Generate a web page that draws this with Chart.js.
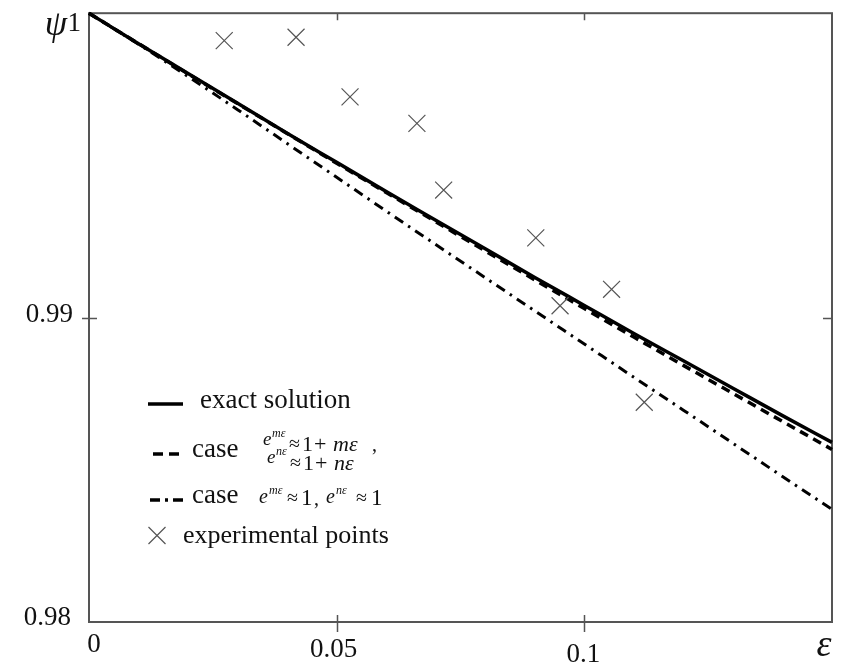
<!DOCTYPE html>
<html>
<head>
<meta charset="utf-8">
<script src="https://cdn.jsdelivr.net/npm/chart.js@4/dist/chart.umd.min.js"></script>
<style>
  html, body { margin: 0; padding: 0; background: #fff; }
  #wrap { width: 846px; height: 667px; }
</style>
</head>
<body>
<div id="wrap"><canvas id="c" width="846" height="667"></canvas></div>
<script>
// strain parameter grid (epsilon)
const epsGrid = [0, 0.01, 0.02, 0.03, 0.04, 0.05, 0.06, 0.07, 0.08, 0.09, 0.10, 0.11, 0.12, 0.13, 0.14, 0.15];

// psi along the grid for each model
const exactSolution = [1.0, 0.99900, 0.99802, 0.99704, 0.99606, 0.99510, 0.99414, 0.99320, 0.99226, 0.99132, 0.99040, 0.98948, 0.98858, 0.98768, 0.98678, 0.98590];
const caseLinear    = [1.0, 0.99900, 0.99801, 0.99703, 0.99605, 0.99507, 0.99411, 0.99315, 0.99219, 0.99124, 0.99030, 0.98936, 0.98843, 0.98751, 0.98659, 0.98567];
const caseUnity     = [1.0, 0.99898, 0.99792, 0.99683, 0.99572, 0.99461, 0.99350, 0.99240, 0.99131, 0.99022, 0.98913, 0.98804, 0.98696, 0.98587, 0.98478, 0.98370];

// measured points
const expEps = [0.0273, 0.0418, 0.0527, 0.0662, 0.0716, 0.0902, 0.0951, 0.1055, 0.1121];
const expPsi = [0.99910, 0.99921, 0.99725, 0.99638, 0.99419, 0.99262, 0.99039, 0.99093, 0.98722];

// axis ticks
const xTicks = [0.05, 0.1];
const xTickLabels = ['0', '0.05', '0.1'];
const yTicks = [0.99];
const yTickLabels = ['1', '0.99', '0.98'];

const SERIF = '"Liberation Serif", "Times New Roman", serif';
const pts = (xs, ys) => xs.map((x, i) => ({ x: x, y: ys[i] }));

function txt(ctx, s, x, y, size, opts) {
  opts = opts || {};
  ctx.font = (opts.italic ? 'italic ' : '') + size + 'px ' + SERIF;
  ctx.textAlign = opts.align || 'left';
  ctx.textBaseline = opts.base || 'alphabetic';
  ctx.fillStyle = opts.color || '#111';
  ctx.fillText(s, x, y);
}

function lineSample(ctx, x0, x1, y, width, dash) {
  ctx.save();
  ctx.strokeStyle = '#000';
  ctx.lineWidth = width;
  ctx.setLineDash(dash);
  ctx.beginPath();
  ctx.moveTo(x0, y);
  ctx.lineTo(x1, y);
  ctx.stroke();
  ctx.restore();
}

const framePlugin = {
  id: 'frame',
  beforeDatasetsDraw(chart) {
    const { ctx, chartArea: a, scales: { x, y } } = chart;
    ctx.save();
    ctx.strokeStyle = '#555';
    ctx.lineWidth = 2;
    ctx.strokeRect(a.left, a.top, a.right - a.left, a.bottom - a.top);
    ctx.lineWidth = 1.5;
    ctx.beginPath();
    xTicks.forEach(v => {
      const px = Math.round(x.getPixelForValue(v)) + 0.5;
      ctx.moveTo(px, a.bottom - 7); ctx.lineTo(px, a.bottom + 10);
      ctx.moveTo(px, a.top); ctx.lineTo(px, a.top + 7);
    });
    yTicks.forEach(v => {
      const py = Math.round(y.getPixelForValue(v)) + 0.5;
      ctx.moveTo(a.left - 7, py); ctx.lineTo(a.left + 8, py);
      ctx.moveTo(a.right - 9, py); ctx.lineTo(a.right, py);
    });
    ctx.stroke();
    ctx.restore();
  },
  afterDraw(chart) {
    const { ctx, chartArea: a, scales: { x, y } } = chart;
    ctx.save();
    // y tick labels
    txt(ctx, '\u03C8', 67, y.getPixelForValue(1) + 12, 36, { italic: true, align: 'right', base: 'middle' });
    txt(ctx, yTickLabels[0], 81, y.getPixelForValue(1) + 11, 27, { align: 'right', base: 'middle' });
    txt(ctx, yTickLabels[1], 73, y.getPixelForValue(0.99) - 3, 27, { align: 'right', base: 'middle' });
    txt(ctx, yTickLabels[2], 71, y.getPixelForValue(0.98) - 4, 27, { align: 'right', base: 'middle' });
    // x tick labels
    txt(ctx, xTickLabels[0], x.getPixelForValue(0) + 5, a.bottom + 23, 27, { align: 'center', base: 'middle' });
    txt(ctx, xTickLabels[1], x.getPixelForValue(0.05) - 3, a.bottom + 28, 27, { align: 'center', base: 'middle' });
    txt(ctx, xTickLabels[2], x.getPixelForValue(0.1) - 1, a.bottom + 33, 27, { align: 'center', base: 'middle' });
    txt(ctx, '\u03B5', a.right - 8, a.bottom + 24, 38, { italic: true, align: 'center', base: 'middle' });

    // legend
    lineSample(ctx, 148, 183, 404, 3.5, []);
    txt(ctx, 'exact solution', 200, 408, 27);

    lineSample(ctx, 153, 181, 454, 3.5, [10, 6]);
    txt(ctx, 'case', 192, 457, 27);
    // e^{m eps} ~ 1 + m eps ,
    txt(ctx, 'e', 263, 445, 19, { italic: true });
    txt(ctx, 'm\u03B5', 272, 437, 12, { italic: true });
    txt(ctx, '\u2248', 289, 450, 20);
    txt(ctx, '1', 302, 451, 22);
    txt(ctx, '+', 314, 451, 22);
    txt(ctx, 'm\u03B5', 333, 451, 22, { italic: true });
    txt(ctx, ',', 372, 451, 20);
    // e^{n eps} ~ 1 + n eps
    txt(ctx, 'e', 267, 463, 19, { italic: true });
    txt(ctx, 'n\u03B5', 276, 455, 12, { italic: true });
    txt(ctx, '\u2248', 290, 469, 20);
    txt(ctx, '1', 303, 470, 22);
    txt(ctx, '+', 315, 470, 22);
    txt(ctx, 'n\u03B5', 334, 470, 22, { italic: true });

    lineSample(ctx, 150, 183, 500, 3.5, [10, 5, 3, 5]);
    txt(ctx, 'case', 192, 503, 27);
    txt(ctx, 'e', 259, 503, 20, { italic: true });
    txt(ctx, 'm\u03B5', 269, 494, 12, { italic: true });
    txt(ctx, '\u2248', 287, 504, 20);
    txt(ctx, '1', 301, 505, 23);
    txt(ctx, ',', 314, 505, 20);
    txt(ctx, 'e', 326, 503, 20, { italic: true });
    txt(ctx, 'n\u03B5', 336, 494, 12, { italic: true });
    txt(ctx, '\u2248', 356, 504, 20);
    txt(ctx, '1', 371, 505, 23);

    // cross marker in legend
    ctx.strokeStyle = '#555';
    ctx.lineWidth = 1.2;
    ctx.setLineDash([]);
    ctx.beginPath();
    ctx.moveTo(148.5, 527); ctx.lineTo(165.5, 544);
    ctx.moveTo(165.5, 527); ctx.lineTo(148.5, 544);
    ctx.stroke();
    txt(ctx, 'experimental points', 183, 543, 26);
    ctx.restore();
  }
};

new Chart(document.getElementById('c'), {
  type: 'line',
  data: {
    datasets: [
      {
        label: 'experimental points',
        type: 'scatter',
        data: pts(expEps, expPsi),
        showLine: false,
        pointStyle: 'crossRot',
        pointRadius: 12,
        pointBorderColor: '#555',
        pointBorderWidth: 1.2,
        borderColor: '#555',
        order: 0
      },
      {
        label: 'exact solution',
        data: pts(epsGrid, exactSolution),
        borderColor: '#000',
        borderWidth: 3.5,
        pointRadius: 0,
        cubicInterpolationMode: 'monotone',
        fill: false,
        clip: false,
        order: 1
      },
      {
        label: 'case linear',
        data: pts(epsGrid, caseLinear),
        borderColor: '#000',
        borderWidth: 3.5,
        borderDash: [9, 6],
        pointRadius: 0,
        cubicInterpolationMode: 'monotone',
        fill: false,
        clip: false,
        order: 2
      },
      {
        label: 'case unity',
        data: pts(epsGrid, caseUnity),
        borderColor: '#000',
        borderWidth: 3,
        borderDash: [10, 6, 2.5, 6],
        pointRadius: 0,
        cubicInterpolationMode: 'monotone',
        fill: false,
        clip: false,
        order: 3
      }
    ]
  },
  options: {
    responsive: false,
    animation: false,
    devicePixelRatio: 1,
    layout: { padding: { left: 89, right: 14, top: 12, bottom: 45 } },
    scales: {
      x: { type: 'linear', min: 0, max: 0.15, display: false },
      y: { type: 'linear', min: 0.98, max: 1, display: false }
    },
    plugins: { legend: { display: false }, tooltip: { enabled: false } }
  },
  plugins: [framePlugin]
});
</script>
</body>
</html>
